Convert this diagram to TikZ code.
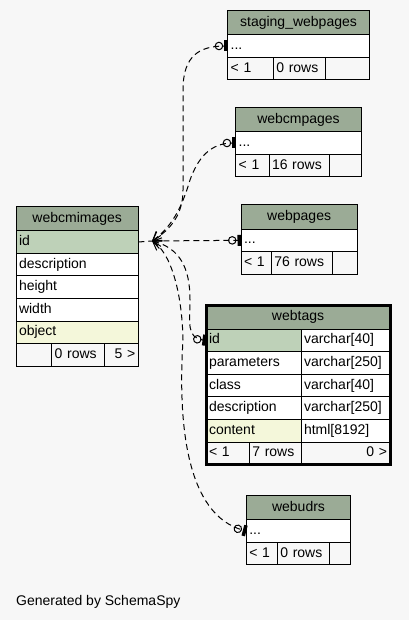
\documentclass[tikz,border=0pt]{standalone}
\usepackage{fontspec}
\setmainfont{Liberation Sans}
\usetikzlibrary{positioning,arrows.meta}

\definecolor{bgcol}{HTML}{F7F7F7}
\definecolor{hdrcol}{HTML}{9BAB96}
\definecolor{pkcol}{HTML}{BED1B8}
\definecolor{idxcol}{HTML}{F4F7DA}

\tikzset{
  hdr/.style={draw, fill=hdrcol, line width=1pt, inner sep=0pt, outer sep=0pt, minimum height=24pt, text height=10.5pt, text depth=3.5pt},
  row/.style={draw, fill=white, line width=1pt, inner xsep=3pt, inner ysep=0pt, outer sep=0pt, minimum height=22.6pt, text height=10.5pt, text depth=3.5pt, align=left},
  pk/.style={row, fill=pkcol},
  idx/.style={row, fill=idxcol},
  foot/.style={row, fill=bgcol},
  rel/.style={line width=1pt, dash pattern=on 6pt off 4pt},
  crowone/.style={{Straight Barb[length=8pt,width=11pt]}-{Circle[open,length=8.5pt,width=8.5pt,sep=1pt]Bar[width=11pt,line width=3.5pt]}}
}

\begin{document}
\begin{tikzpicture}[x=1pt, y=-1pt, font=\fontsize{14}{16}\selectfont]
\fill[bgcol] (0,0) rectangle (409,620);
\useasboundingbox (0,0) rectangle (409,620);

% webcmimages
\node[hdr, minimum width=122.3pt, anchor=north west] (ci-hdr) at (16,206.7) {webcmimages};
\node[pk, text width=116.3pt, below=0pt of ci-hdr] (ci-id) {id};
\node[row, text width=116.3pt, below=0pt of ci-id] (ci-desc) {description};
\node[row, text width=116.3pt, below=0pt of ci-desc] (ci-hgt) {height};
\node[row, text width=116.3pt, below=0pt of ci-hgt] (ci-wid) {width};
\node[idx, text width=116.3pt, below=0pt of ci-wid] (ci-obj) {object};
\node[foot, text width=29.7pt, anchor=north west] (ci-f1) at (ci-obj.south west) {};
\node[foot, text width=46.3pt, right=0pt of ci-f1] (ci-f2) {0 rows};
\node[foot, text width=28.3pt, align=right, right=0pt of ci-f2] (ci-f3) {5 >};

% staging_webpages
\node[hdr, minimum width=141.6pt, anchor=north west] (stg-hdr) at (227.7,10.7) {staging\_webpages};
\node[row, text width=135.6pt, below=0pt of stg-hdr] (stg-dots) {...};
\node[foot, text width=39.6pt, anchor=north west] (stg-f1) at (stg-dots.south west) {< 1};
\node[foot, text width=46pt, right=0pt of stg-f1] (stg-f2) {0 rows};
\node[foot, text width=38pt, right=0pt of stg-f2] (stg-f3) {};

% webcmpages
\node[hdr, minimum width=125.6pt, anchor=north west] (cmp-hdr) at (235.7,107.7) {webcmpages};
\node[row, text width=119.6pt, below=0pt of cmp-hdr] (cmp-dots) {...};
\node[foot, text width=27.3pt, anchor=north west] (cmp-f1) at (cmp-dots.south west) {< 1};
\node[foot, text width=54pt, right=0pt of cmp-f1] (cmp-f2) {16 rows};
\node[foot, text width=26.3pt, right=0pt of cmp-f2] (cmp-f3) {};

% webpages
\node[hdr, minimum width=116.3pt, anchor=north west] (wp-hdr) at (241,205) {webpages};
\node[row, text width=110.3pt, below=0pt of wp-hdr] (wp-dots) {...};
\node[foot, text width=24.3pt, anchor=north west] (wp-f1) at (wp-dots.south west) {< 1};
\node[foot, text width=54.7pt, right=0pt of wp-f1] (wp-f2) {76 rows};
\node[foot, text width=19.3pt, right=0pt of wp-f2] (wp-f3) {};

% webtags
\node[hdr, minimum width=184pt, anchor=north west] (wt-hdr) at (206,305) {webtags};
\node[pk, text width=89pt, anchor=north west] (wt-id) at (wt-hdr.south west) {id};
\node[row, text width=83pt, right=0pt of wt-id] (wt-idt) {varchar[40]};
\node[row, text width=89pt, below=0pt of wt-id] (wt-par) {parameters};
\node[row, text width=83pt, right=0pt of wt-par] (wt-part) {varchar[250]};
\node[row, text width=89pt, below=0pt of wt-par] (wt-cls) {class};
\node[row, text width=83pt, right=0pt of wt-cls] (wt-clst) {varchar[40]};
\node[row, text width=89pt, below=0pt of wt-cls] (wt-desc) {description};
\node[row, text width=83pt, right=0pt of wt-desc] (wt-desct) {varchar[250]};
\node[idx, text width=89pt, below=0pt of wt-desc] (wt-cont) {content};
\node[row, text width=83pt, right=0pt of wt-cont] (wt-contt) {html[8192]};
\node[foot, text width=37.3pt, anchor=north west] (wt-f1) at (wt-cont.south west) {< 1};
\node[foot, text width=45.7pt, right=0pt of wt-f1] (wt-f2) {7 rows};
\node[foot, text width=83pt, align=right, right=0pt of wt-f2] (wt-f3) {0 >};
\draw[line width=3pt] (wt-hdr.north west) rectangle (wt-f3.south east);

% webudrs
\node[hdr, minimum width=104.4pt, anchor=north west] (udr-hdr) at (246.3,495.7) {webudrs};
\node[row, text width=98.4pt, below=0pt of udr-hdr] (udr-dots) {...};
\node[foot, text width=25pt, anchor=north west] (udr-f1) at (udr-dots.south west) {< 1};
\node[foot, text width=46pt, right=0pt of udr-f1] (udr-f2) {0 rows};
\node[foot, text width=15.4pt, right=0pt of udr-f2] (udr-f3) {};

% relations
\coordinate (hub) at (152,241);
\draw[rel] (ci-id.east) -- (hub);
\draw[rel, crowone] (hub) .. controls (170,230) and (183,215) .. (183,190) -- (183,90) .. controls (183,55) and (200,46) .. (stg-dots.west);
\draw[rel, crowone] (hub) .. controls (175,225) and (184,200) .. (190,180) .. controls (198,158) and (210,143) .. (cmp-dots.west);
\draw[rel, crowone] (hub) -- (wp-dots.west);
\draw[rel, crowone] (hub) .. controls (180,248) and (190,268) .. (190,300) .. controls (190,322) and (186,338) .. (wt-id.west);
\draw[rel, crowone] (hub) .. controls (170,252) and (182,290) .. (183,340) .. controls (178,420) and (185,515) .. (udr-dots.west);

\node[anchor=base west, inner sep=0pt] (gen) at (16,605) {Generated by SchemaSpy};
\end{tikzpicture}
\end{document}
